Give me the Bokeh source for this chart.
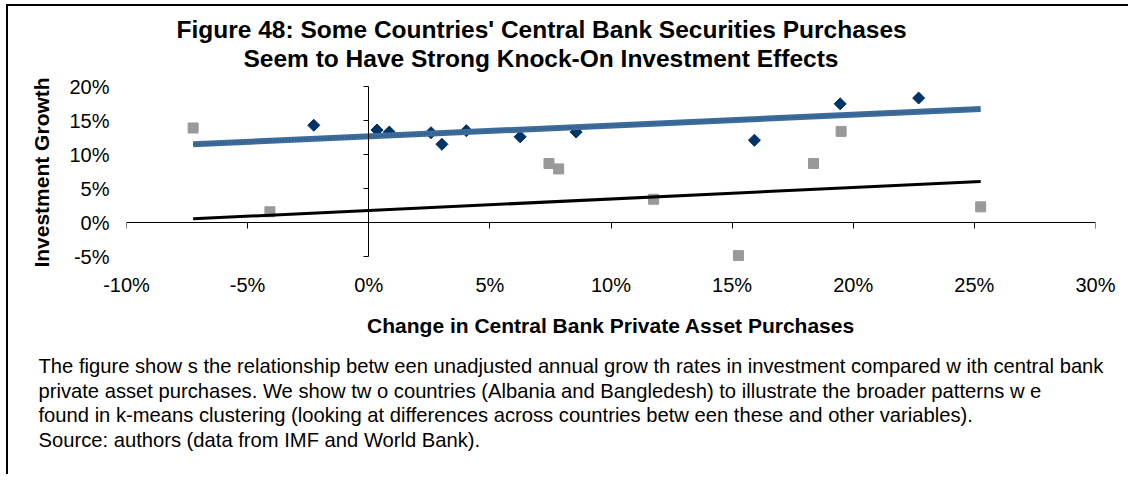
import math
from bokeh.plotting import figure
from bokeh.layouts import column
from bokeh.models import (LinearAxis, FixedTicker, PrintfTickFormatter, Title,
                          Range1d, CustomJSTickFormatter)
from bokeh.embed import file_html
from bokeh.resources import INLINE

# ---- data (percent) ----
blue_x = [-2.27, 0.34, 0.85, 2.57, 3.02, 4.03, 6.25, 8.56, 15.92, 19.46, 22.7]
blue_y = [14.3, 13.6, 13.3, 13.2, 11.5, 13.5, 12.6, 13.3, 12.1, 17.45, 18.3]
gray_x = [-7.25, -4.08, 7.44, 7.84, 11.76, 15.26, 18.36, 19.5, 25.26]
gray_y = [13.9, 1.58, 8.68, 7.88, 3.42, -4.87, 8.68, 13.4, 2.3]
trend_x = [-7.25, 25.26]
trend_blue_y = [11.5, 16.7]
trend_black_y = [0.54, 6.04]
x_ticks = [-10, -5, 0, 5, 10, 15, 20, 25, 30]
y_ticks = [-5, 0, 5, 10, 15, 20]

title_lines = ["Figure 48: Some Countries' Central Bank Securities Purchases",
               "Seem to Have Strong Knock-On Investment Effects"]
x_title = "Change in Central Bank Private Asset Purchases"
y_title = "Investment Growth"
caption_lines = [
    "The figure show s the relationship betw een unadjusted annual grow th rates in investment compared w ith central bank",
    "private asset purchases. We show  tw o countries (Albania and Bangledesh) to illustrate the broader patterns w e",
    "found in k-means clustering (looking at differences across countries betw een these and other variables).",
    "Source: authors (data from IMF and World Bank).",
]

FONT = "Liberation Sans"
OX, OY = 8, 6            # canvas origin inside the bordered block
W, H = 1120, 468
FL, FR, FT, FB = 126 - OX, 1095 - OX, 83 - OY, 261 - OY   # frame edges (canvas px)
p = figure(width=W, height=H, output_backend="svg", toolbar_location=None,
           x_range=Range1d(-10, 30),
           y_range=Range1d(-5 - 5 / 6.8, 20 + 3 / 6.8),
           x_axis_location=None, y_axis_location=None,
           min_border_left=FL, min_border_right=W - FR,
           min_border_top=FT, min_border_bottom=H - FB)
p.grid.visible = False
p.outline_line_color = None
p.background_fill_color = "white"
p.border_fill_color = "white"

blank = CustomJSTickFormatter(code="return ''")
pct = PrintfTickFormatter(format="%d%%")

# label-only axes at the frame edges
ax_lab = LinearAxis(ticker=FixedTicker(ticks=x_ticks), formatter=pct,
                    axis_line_color=None, major_tick_line_color=None,
                    major_tick_in=0, major_tick_out=0,
                    minor_tick_line_color=None, major_label_standoff=12,
                    major_label_text_font=FONT, major_label_text_font_size="20px",
                    major_label_text_color="black",
                    axis_label=x_title, axis_label_standoff=15,
                    axis_label_text_font=FONT, axis_label_text_font_style="bold",
                    axis_label_text_font_size="21px", axis_label_text_color="black")
p.add_layout(ax_lab, "below")
ay_lab = LinearAxis(ticker=FixedTicker(ticks=y_ticks), formatter=pct,
                    axis_line_color=None, major_tick_line_color=None,
                    major_tick_in=0, major_tick_out=0,
                    minor_tick_line_color=None, major_label_standoff=17,
                    major_label_text_font=FONT, major_label_text_font_size="20px",
                    major_label_text_color="black",
                    axis_label=y_title, axis_label_standoff=13,
                    axis_label_text_font=FONT, axis_label_text_font_style="bold",
                    axis_label_text_font_size="21px", axis_label_text_color="black")
p.add_layout(ay_lab, "left")

# title lines above the plot
t2 = Title(text=title_lines[1], align="left", offset=117, standoff=24,
           text_font=FONT, text_font_style="bold", text_font_size="24.5px",
           text_color="black")
p.add_layout(t2, "above")
t1 = Title(text=title_lines[0], align="left", offset=50, standoff=-25.6,
           text_font=FONT, text_font_style="bold", text_font_size="24.5px",
           text_color="black")
p.add_layout(t1, "above")

# caption (multi-line) below
cap = Title(text="\n".join(caption_lines), align="left", offset=38 - 126,
            standoff=27, text_font=FONT, text_font_size="20.2px",
            text_line_height=1.12, text_color="black", text_font_style="normal")
p.add_layout(cap, "below")

# axis lines crossing at zero with ticks
ax_zero = LinearAxis(ticker=FixedTicker(ticks=x_ticks), formatter=blank,
                     fixed_location=0, bounds=(-10, 30),
                     axis_line_color="black", axis_line_width=1,
                     major_tick_in=6, major_tick_out=0, major_tick_line_color="black",
                     minor_tick_line_color=None, major_label_standoff=0,
                     major_label_text_font_size="1px")
p.add_layout(ax_zero, "above")
ay_zero = LinearAxis(ticker=FixedTicker(ticks=y_ticks), formatter=blank,
                     fixed_location=0, bounds=(-5, 20),
                     axis_line_color="black", axis_line_width=1,
                     major_tick_in=0, major_tick_out=5, major_tick_line_color="black",
                     minor_tick_line_color=None, major_label_standoff=0,
                     major_label_text_font_size="1px")
p.add_layout(ay_zero, "left")

# markers
p.scatter(gray_x, gray_y, marker="square", size=10, fill_color="#999999",
          line_color="#999999")
p.scatter(blue_x, blue_y, marker="square", size=8.5, angle=math.pi / 4,
          fill_color="#003366", line_color="#003366")

# trendlines
p.line(trend_x, trend_blue_y, line_color="#3D6C9B", line_width=6)
p.line(trend_x, trend_blue_y, line_color="#2F5A86", line_width=2, line_dash="1 2")
p.line(trend_x, trend_black_y, line_color="black", line_width=3)

# rule along the top and left edges of the block (as in the source document)
layout = column(p, width=W + 2, height=H + 2,
                styles={"margin-left": "6px", "margin-top": "4px",
                        "border-top": "2px solid #000000",
                        "border-left": "2px solid #000000",
                        "overflow": "hidden"})

open("out.html", "w").write(file_html(layout, INLINE))
